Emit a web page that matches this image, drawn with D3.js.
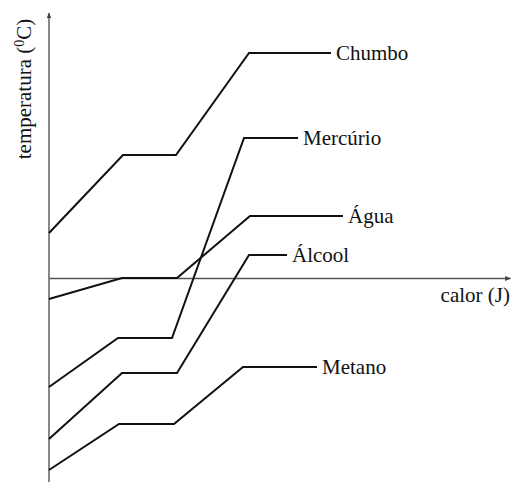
<!DOCTYPE html>
<html>
<head>
<meta charset="utf-8">
<script src="https://cdn.jsdelivr.net/npm/d3@7"></script>
<style>
  html, body { margin: 0; padding: 0; background: #fff; }
  svg text { font-family: "Liberation Serif", "DejaVu Serif", serif; fill: #111; }
</style>
</head>
<body>
<div id="chart"></div>
<script>
// curvas de aquecimento (calor em unidades arbitrárias, temperatura em unidades arbitrárias)
const substances = ['Chumbo', 'Mercúrio', 'Água', 'Álcool', 'Metano'];
const calorChumbo   = [0, 74, 127, 200, 282];
const tempChumbo    = [45, 123, 123, 225, 225];
const calorMercurio = [0, 69, 123, 195, 249];
const tempMercurio  = [-109, -60, -60, 140, 140];
const calorAgua     = [0, 73, 128, 201, 294];
const tempAgua      = [-21, 0, 0, 62, 62];
const calorAlcool   = [0, 73, 128, 200, 238];
const tempAlcool    = [-161, -95, -95, 23, 23];
const calorMetano   = [0, 70, 125, 194, 268];
const tempMetano    = [-192, -146, -146, -89, -89];

const calores = [calorChumbo, calorMercurio, calorAgua, calorAlcool, calorMetano];
const temps = [tempChumbo, tempMercurio, tempAgua, tempAlcool, tempMetano];

const width = 511, height = 482;

const svg = d3.select('#chart').append('svg')
  .attr('width', width)
  .attr('height', height);

const x = d3.scaleLinear().domain([0, 461]).range([49, 510]);
const y = d3.scaleLinear().domain([-204, 265]).range([482, 13]);

// setas dos eixos
const defs = svg.append('defs');
defs.append('marker')
  .attr('id', 'arrow')
  .attr('viewBox', '0 0 10 10')
  .attr('refX', 9).attr('refY', 5)
  .attr('markerWidth', 6).attr('markerHeight', 6)
  .attr('markerUnits', 'userSpaceOnUse')
  .attr('orient', 'auto')
  .append('path')
  .attr('d', 'M0,1 L10,5 L0,9 Z')
  .attr('fill', '#444');

// eixo x
const xAxis = svg.append('g')
  .attr('transform', `translate(0,${y(0)})`)
  .call(d3.axisBottom(x).tickValues([]).tickSizeOuter(0));
xAxis.select('.domain').attr('stroke', '#555').attr('stroke-width', 1.4)
  .attr('marker-end', 'url(#arrow)');

// eixo y
const yAxis = svg.append('g')
  .attr('transform', `translate(${x(0)},0)`)
  .call(d3.axisLeft(y).tickValues([]).tickSizeOuter(0));
yAxis.select('.domain')
  .attr('d', `M0,${y(-204)}V${y(265)}`)
  .attr('stroke', '#555').attr('stroke-width', 1.4)
  .attr('marker-end', 'url(#arrow)');

// curvas
const line = d3.line().x(d => x(d[0])).y(d => y(d[1]));

substances.forEach((name, i) => {
  const pts = calores[i].map((c, j) => [c, temps[i][j]]);
  svg.append('path')
    .datum(pts)
    .attr('d', line)
    .attr('fill', 'none')
    .attr('stroke', '#111')
    .attr('stroke-width', 2)
    .attr('stroke-linejoin', 'miter');
  const last = pts[pts.length - 1];
  svg.append('text')
    .attr('x', x(last[0]) + 5)
    .attr('y', y(last[1]))
    .attr('dy', '0.35em')
    .style('font-size', '21px')
    .text(name);
});

// rótulos dos eixos
svg.append('text')
  .attr('x', 510)
  .attr('y', 302)
  .attr('text-anchor', 'end')
  .style('font-size', '21px')
  .text('calor (J)');

const yl = svg.append('text')
  .attr('transform', 'translate(31,89) rotate(-90)')
  .attr('text-anchor', 'middle')
  .style('font-size', '21px');
yl.append('tspan').text('temperatura (');
yl.append('tspan').attr('dy', '-7').style('font-size', '14px').text('0');
yl.append('tspan').attr('dy', '7').text('C)');
</script>
</body>
</html>
